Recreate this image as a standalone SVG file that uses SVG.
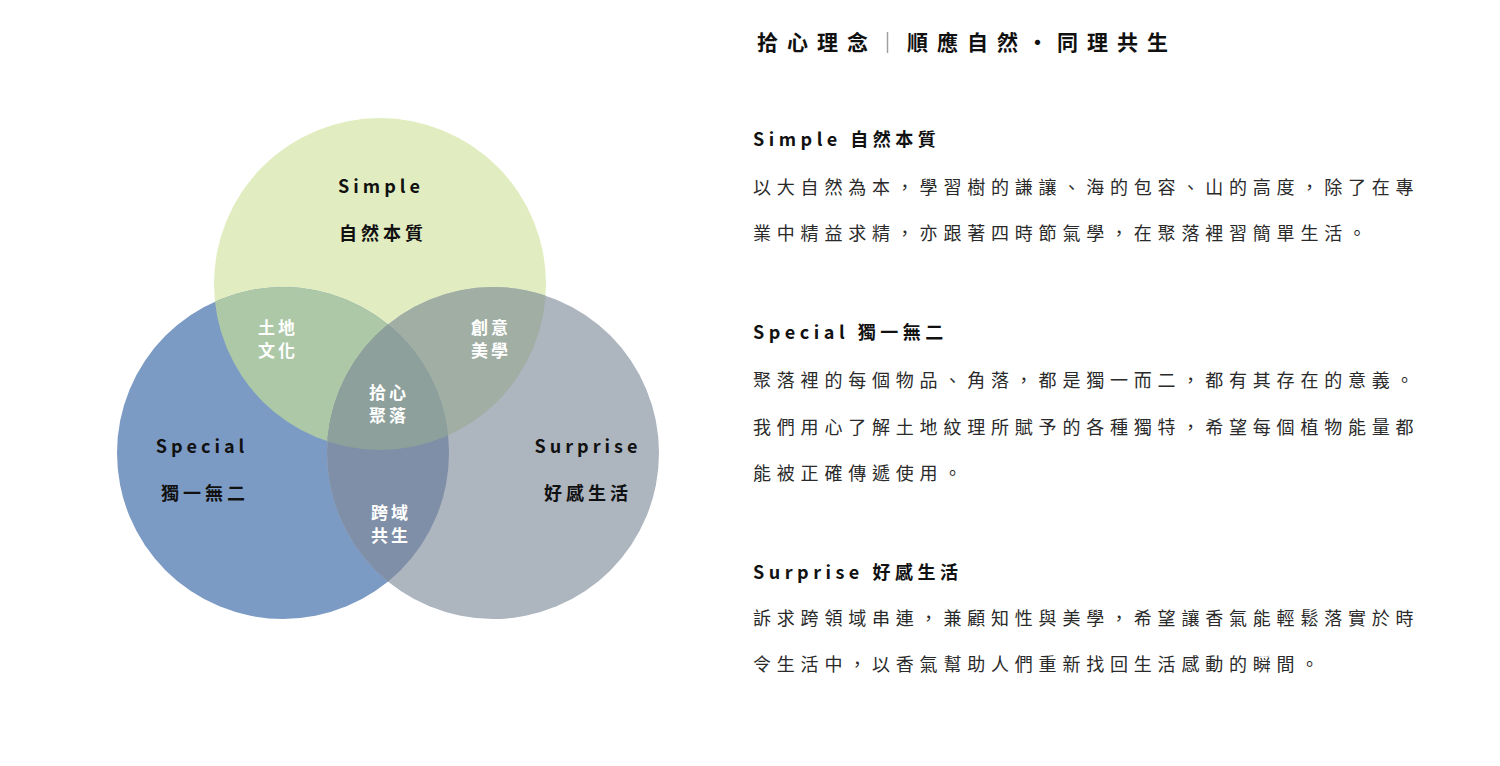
<svg xmlns="http://www.w3.org/2000/svg" width="1500" height="766" viewBox="0 0 1500 766">
<style>
text{font-family:"Noto Sans CJK TC","Noto Sans CJK SC","Noto Sans",sans-serif}
.title{font-size:21px;font-weight:700;fill:#111;letter-spacing:9px}
.head{font-size:18px;font-weight:700;fill:#111;letter-spacing:4.5px}
.body{font-size:18px;font-weight:400;fill:#2a2a2a;letter-spacing:5.8px}
.clab{font-size:18px;font-weight:700;fill:#111;letter-spacing:4px;text-anchor:middle}
.wlab{font-size:17px;font-weight:700;fill:#fff;letter-spacing:3px;text-anchor:middle}
</style>
<defs>
<clipPath id="cG"><circle cx="380" cy="284" r="166"/></clipPath>
<clipPath id="cB"><circle cx="283" cy="453" r="166"/></clipPath>
</defs>
<rect width="1500" height="766" fill="#fff"/>
<g id="venn">
<g id="circle-simple"><circle cx="380" cy="284" r="166" fill="#e1edc0"/></g>
<g id="circle-special"><circle cx="283" cy="453" r="166" fill="#7b9ac4"/></g>
<g id="circle-surprise"><circle cx="493" cy="453" r="166" fill="#adb5bf"/></g>
<g id="overlap-simple-special"><circle cx="283" cy="453" r="166" fill="#adc8a7" clip-path="url(#cG)"/></g>
<g id="overlap-simple-surprise"><circle cx="493" cy="453" r="166" fill="#a0aea3" clip-path="url(#cG)"/></g>
<g id="overlap-special-surprise"><circle cx="493" cy="453" r="166" fill="#7f8fa7" clip-path="url(#cB)"/></g>
<g id="overlap-all" clip-path="url(#cG)"><circle cx="493" cy="453" r="166" fill="#8ea09b" clip-path="url(#cB)"/></g>
</g>
<g id="labels">
<text class="clab" x="381" y="193">Simple</text>
<text class="clab" x="383" y="240">自然本質</text>
<text class="clab" x="202" y="453">Special</text>
<text class="clab" x="205" y="500">獨一無二</text>
<text class="clab" x="588" y="453">Surprise</text>
<text class="clab" x="588" y="500">好感生活</text>
<text class="wlab" x="278" y="334">土地</text>
<text class="wlab" x="278" y="357">文化</text>
<text class="wlab" x="491" y="334">創意</text>
<text class="wlab" x="491" y="357">美學</text>
<text class="wlab" x="389" y="399">拾心</text>
<text class="wlab" x="389" y="422">聚落</text>
<text class="wlab" x="391" y="519">跨域</text>
<text class="wlab" x="391" y="542">共生</text>
</g>
<g id="title">
<text class="title" x="757" y="50">拾心理念</text>
<line x1="887.5" y1="32" x2="887.5" y2="53" stroke="#a0a0a0" stroke-width="1.5"/>
<text class="title" x="907" y="50">順應自然・同理共生</text>
</g>
<g id="text-simple">
<text class="head" x="753" y="146">Simple 自然本質</text>
<text class="body" x="753" y="194">以大自然為本，學習樹的謙讓、海的包容、山的高度，除了在專</text>
<text class="body" x="753" y="240">業中精益求精，亦跟著四時節氣學，在聚落裡習簡單生活。</text>
</g>
<g id="text-special">
<text class="head" x="753" y="339">Special 獨一無二</text>
<text class="body" x="753" y="387">聚落裡的每個物品、角落，都是獨一而二，都有其存在的意義。</text>
<text class="body" x="753" y="434">我們用心了解土地紋理所賦予的各種獨特，希望每個植物能量都</text>
<text class="body" x="753" y="480">能被正確傳遞使用。</text>
</g>
<g id="text-surprise">
<text class="head" x="753" y="579">Surprise 好感生活</text>
<text class="body" x="753" y="625">訴求跨領域串連，兼顧知性與美學，希望讓香氣能輕鬆落實於時</text>
<text class="body" x="753" y="671">令生活中，以香氣幫助人們重新找回生活感動的瞬間。</text>
</g>
</svg>
